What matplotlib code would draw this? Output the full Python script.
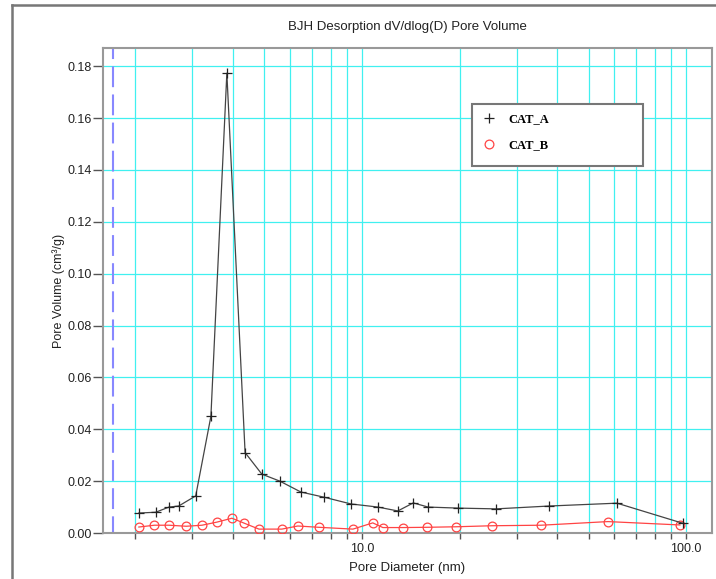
import numpy as np
import matplotlib
matplotlib.use("Agg")
import matplotlib.pyplot as plt
from matplotlib.lines import Line2D
from matplotlib.patches import Rectangle
from matplotlib.ticker import FixedLocator, NullFormatter

# pore diameter (nm) and dV/dlog(D) pore volume (cm3/g)
d_a = [2.05, 2.31, 2.54, 2.72, 3.07, 3.42, 3.83, 4.36, 4.91, 5.58, 6.48, 7.64,
       9.25, 11.2, 12.9, 14.4, 16.0, 19.8, 25.9, 37.8, 61.2, 98.0]
v_a = [0.0077, 0.0080, 0.0100, 0.0104, 0.0143, 0.0450, 0.1773, 0.0310, 0.0227,
       0.0200, 0.0158, 0.0138, 0.0112, 0.0100, 0.0085, 0.0116, 0.0100, 0.0096,
       0.0093, 0.0104, 0.0115, 0.0037]

d_b = [2.05, 2.29, 2.54, 2.87, 3.21, 3.57, 3.97, 4.33, 4.81, 5.66, 6.34, 7.36,
       9.38, 10.8, 11.6, 13.4, 15.9, 19.5, 25.2, 35.7, 57.4, 95.7]
v_b = [0.0023, 0.0030, 0.0030, 0.0026, 0.0030, 0.0042, 0.0057, 0.0038, 0.0015,
       0.0015, 0.0027, 0.0022, 0.0015, 0.0039, 0.0021, 0.0021, 0.0022, 0.0024,
       0.0028, 0.0030, 0.0044, 0.0031]

y_ticks = [0.00, 0.02, 0.04, 0.06, 0.08, 0.10, 0.12, 0.14, 0.16, 0.18]
x_minor = [2, 3, 4, 5, 6, 7, 8, 9, 20, 30, 40, 50, 60, 70, 80, 90]
x_major = [10, 100]
x_labels = ["10.0", "100.0"]
cutoff = 1.7

plt.rcParams['font.family'] = ['Liberation Sans', 'DejaVu Sans']

W, H = 716, 579
fig = plt.figure(figsize=(W / 100, H / 100), dpi=100)
ax = fig.add_axes([103 / W, 46 / H, 609 / W, 485 / H])

ax.set_xscale('log')
ax.set_xlim(1.589, 120.2)
ax.set_ylim(0, 0.187)

# grid
for x in x_minor + x_major:
    ax.axvline(x, color='#40f0f0', lw=0.9, zorder=1)
for y in y_ticks[1:]:
    ax.axhline(y, color='#40f0f0', lw=0.9, zorder=1)
ax.axvline(cutoff, color='#8888ff', lw=1.5, ls=(2, (10, 3.5)), zorder=2)

ax.plot(d_a, v_a, color='#444444', lw=0.9, marker='+', ms=7.5, mew=0.9,
        mec='#222222', zorder=4, label='CAT_A')
ax.plot(d_b, v_b, color='#ff4444', lw=0.9, marker='o', ms=6.3, mfc='none',
        mew=0.9, mec='#ff4444', zorder=3, label='CAT_B')

ax.xaxis.set_major_locator(FixedLocator(x_major))
ax.xaxis.set_minor_locator(FixedLocator(x_minor))
ax.set_xticklabels(x_labels)
ax.xaxis.set_minor_formatter(NullFormatter())
ax.set_yticks(y_ticks)
ax.set_yticklabels(["%.2f" % t for t in y_ticks])
ax.tick_params(axis='both', which='both', direction='out', width=1.0,
               color='#555555', labelsize=9, labelcolor='#222222')
ax.tick_params(axis='x', which='both', length=4, pad=3)
ax.tick_params(axis='y', length=7, pad=1)
for s in ax.spines.values():
    s.set_color('#999999')
    s.set_linewidth(1.5)

ax.set_title('BJH Desorption dV/dlog(D) Pore Volume', fontsize=9.5,
             color='#222222', pad=13)
ax.set_xlabel('Pore Diameter (nm)', fontsize=9.5, color='#222222', labelpad=5)
ax.set_ylabel('Pore Volume (cm³/g)', fontsize=9, color='#222222', labelpad=2)

# legend: entries without frame, box drawn separately
leg = ax.legend(loc='upper left',
                bbox_to_anchor=(481 / W, 1 - 113 / H),
                bbox_transform=fig.transFigure,
                frameon=False, borderpad=0, labelspacing=1.15,
                handlelength=1.2, handletextpad=1.0, borderaxespad=0,
                prop={'family': 'Liberation Serif', 'weight': 'bold', 'size': 9})
for h in leg.legend_handles:
    h.set_linestyle('none')
leg.set_zorder(7)
box = Rectangle((472 / W, 1 - 166 / H), 171 / W, 62 / H,
                transform=fig.transFigure, facecolor='white',
                edgecolor='#777777', lw=1.5, zorder=6, clip_on=False)
ax.add_patch(box)

# outer frame of the original page
fig.add_artist(Line2D([12 / W, 12 / W], [0, 1 - 5 / H], color='#777777',
                      lw=1.8, transform=fig.transFigure))
fig.add_artist(Line2D([12 / W, 1], [1 - 5 / H, 1 - 5 / H], color='#777777',
                      lw=1.8, transform=fig.transFigure))

fig.savefig('out.png', dpi=100)
